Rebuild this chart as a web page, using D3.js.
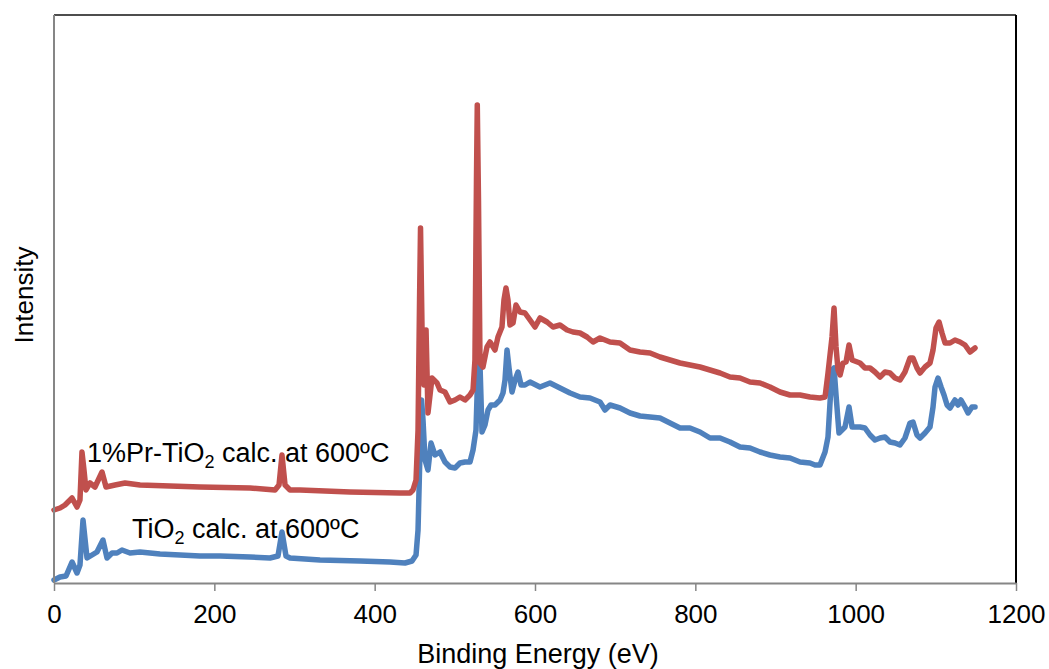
<!DOCTYPE html>
<html>
<head>
<meta charset="utf-8">
<script src="https://cdn.jsdelivr.net/npm/d3@7/dist/d3.min.js"></script>
<style>
  html, body { margin: 0; padding: 0; background: #fff; }
  svg { display: block; }
  text { font-family: "Liberation Sans", Arial, sans-serif; fill: #000; }
</style>
</head>
<body>
<svg id="chart" width="1049" height="669"></svg>
<script>
// ---- Data (binding energy in eV, intensity in arbitrary units) ----
const xTicks = [0, 200, 400, 600, 800, 1000, 1200];
const xLabel = "Binding Energy (eV)";
const yLabel = "Intensity";

const tioEnergy = [0,7.5,15,22.5,28.7,32.4,36.2,41.2,47.4,53.6,61.1,66.1,72.4,78.6,84.8,94.8,107.3,132.2,157.2,182.1,207.1,244.5,269.4,279.4,284.4,289.4,294.4,331.8,381.7,419.1,437.8,446.6,451.6,454.1,456.6,458.5,460.3,462.8,466.5,470.3,475.3,481.5,487.7,494,500.2,506.4,512.7,518.9,522.7,526.4,528.9,531.4,533.9,537.6,541.4,545.1,550.1,556.4,560.1,562.6,565.1,567.6,571.3,575.1,578.8,582.6,587.5,593.8,606.2,618.7,631.2,643.7,656.1,668.6,681.1,687.3,693.6,706,718.5,731,743.5,755.9,768.4,780.9,793.3,805.8,818.3,830.8,843.2,855.7,868.2,880.7,893.1,905.6,918.1,930.6,943,949.3,955.5,961.8,965.5,968,970.5,973,975.5,979.2,986.7,991.7,995.5,1005.4,1011.6,1017.9,1024.1,1030.4,1036.6,1042.8,1049.1,1055.3,1061.5,1067.8,1071.5,1076.5,1080.3,1086.5,1092.7,1096.5,1099,1102.7,1106.5,1110.2,1114,1117.7,1123.9,1127.7,1131.4,1136.4,1140.2,1145.1,1148.9];
const tioIntensity = [3,6,7,21,10,18,63,25,28,31,43,25,30,30,33,30,31,29,28,27,27,26,25,27,51,27,25,23,22,21,20,22,28,53,133,183,163,123,113,140,128,131,121,116,115,120,121,121,133,153,218,218,151,158,173,178,178,183,190,203,233,215,191,203,211,198,198,201,196,200,195,190,186,185,181,173,178,175,170,167,166,165,160,155,155,151,145,145,141,136,135,131,128,126,125,121,120,118,118,131,146,180,213,215,188,150,156,176,156,156,155,148,143,145,146,141,140,138,145,160,161,148,145,150,156,176,196,205,196,188,178,175,183,178,183,176,170,176,176];

const prEnergy = [0,7.5,13.7,22.5,28.7,32.4,34.9,37.4,39.9,44.9,51.1,59.9,64.9,76.1,88.6,107.3,144.7,182.1,244.5,275.7,280.7,284.4,288.2,294.4,306.9,369.2,431.6,444.1,447.8,451.6,454.1,456,457.2,459.1,461.6,464.1,466.5,471.5,477.8,481.5,487.7,494,500.2,506.4,512.7,518.9,522.7,525.1,527,528,529.5,531.4,535.1,540.1,543.9,550.1,553.8,558.8,561.3,563.8,566.3,568.8,572.6,576.3,581.3,587.5,593.8,600,606.2,615,622.5,631.2,640,647.4,656.1,664.9,672.4,681.1,693.6,706,718.5,731,743.5,755.9,768.4,780.9,793.3,805.8,818.3,830.8,843.2,855.7,868.2,880.7,893.1,905.6,918.1,930.6,943,955.5,961.8,965.5,970.5,973,975.5,978,980.5,984.2,988,991.7,995.5,1005.4,1011.6,1017.9,1024.1,1030.4,1036.6,1042.8,1049.1,1055.3,1061.5,1067.8,1071.5,1076.5,1080.3,1086.5,1092.7,1096.5,1100.2,1104,1107.7,1111.5,1117.7,1123.9,1130.2,1136.4,1142.6,1148.9];
const prIntensity = [73,75,78,85,76,83,131,113,93,100,96,111,96,98,100,98,97,96,95,93,98,128,98,93,93,91,90,90,93,103,153,283,355,253,198,253,170,205,200,193,191,181,183,186,183,188,193,223,403,478,383,220,216,236,241,233,246,256,283,295,283,258,260,278,271,270,263,256,265,261,256,258,253,251,250,246,241,245,241,240,233,231,230,226,223,220,218,216,213,210,206,205,201,200,196,191,188,188,186,185,186,210,246,275,236,213,208,220,221,238,223,220,215,215,211,206,211,210,205,203,211,225,225,215,210,216,220,233,255,261,250,240,240,243,241,238,231,235];

const seriesColors = ["#4F81BD", "#C0504D"];

// ---- Layout ----
const svg = d3.select("#chart");
const plotLeft = 54, plotRight = 1016, plotTop = 15, plotBottom = 583;
const fontSize = 27;

const x = d3.scaleLinear().domain([0, 1200]).range([plotLeft, plotRight]);
const y = d3.scaleLinear().domain([0, 568]).range([plotBottom, plotTop]);

// plot border (top/right)
svg.append("line").attr("x1", plotLeft).attr("x2", plotRight).attr("y1", plotTop).attr("y2", plotTop)
  .attr("stroke", "#4d4d4d").attr("stroke-width", 2);
svg.append("line").attr("x1", plotRight).attr("x2", plotRight).attr("y1", plotTop).attr("y2", plotBottom)
  .attr("stroke", "#000").attr("stroke-width", 2);

// series
const line = d3.line().x(d => x(d[0])).y(d => y(d[1]));
const tioData = tioEnergy.map((e, i) => [e, tioIntensity[i]]);
const prData = prEnergy.map((e, i) => [e, prIntensity[i]]);

[tioData, prData].forEach((data, i) => {
  svg.append("path").datum(data)
    .attr("d", line)
    .attr("fill", "none")
    .attr("stroke", seriesColors[i])
    .attr("stroke-width", 5.5)
    .attr("stroke-linejoin", "round")
    .attr("stroke-linecap", "round");
});

// left axis line
svg.append("line").attr("x1", plotLeft).attr("x2", plotLeft).attr("y1", plotTop).attr("y2", plotBottom)
  .attr("stroke", "#868686").attr("stroke-width", 2);

// x axis
const xAxis = d3.axisBottom(x).tickValues(xTicks).tickSize(8).tickPadding(14).tickSizeOuter(0)
  .tickFormat(d3.format("d"));
const gx = svg.append("g").attr("transform", `translate(0,${plotBottom})`).call(xAxis);
gx.select(".domain").attr("stroke", "#868686").attr("stroke-width", 2);
gx.selectAll(".tick line").attr("stroke", "#868686").attr("stroke-width", 1.5);
gx.selectAll(".tick text").attr("font-size", 26)
  .style("font-family", "'Liberation Sans', Arial, sans-serif").attr("fill", "#000");

// axis titles
svg.append("text").attr("x", (plotLeft + plotRight) / 2 + 3).attr("y", 663)
  .attr("text-anchor", "middle").attr("font-size", fontSize).text(xLabel);
svg.append("text").attr("transform", `translate(33,${(plotTop + plotBottom) / 2 - 4}) rotate(-90)`)
  .attr("text-anchor", "middle").attr("font-size", 26).text(yLabel);

// series labels with subscript
function label(xp, yp, pre, sub, post) {
  const t = svg.append("text").attr("x", xp).attr("y", yp).attr("font-size", fontSize);
  t.append("tspan").text(pre);
  t.append("tspan").attr("font-size", 18).attr("dy", 6).text(sub);
  t.append("tspan").attr("dy", -6).text(post);
}
label(87, 462, "1%Pr-TiO", "2", " calc. at 600ºC");
label(132, 538, "TiO", "2", " calc. at 600ºC");
</script>
</body>
</html>
